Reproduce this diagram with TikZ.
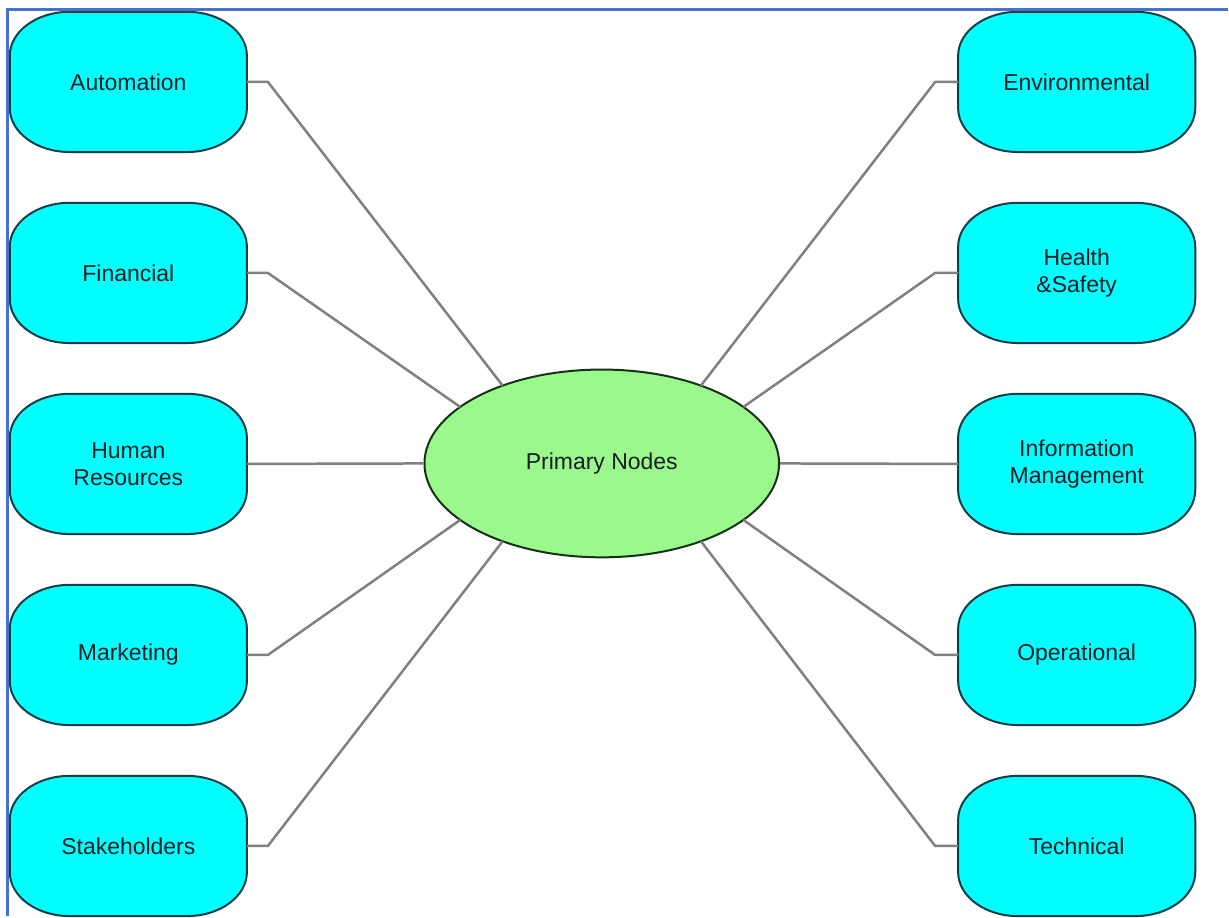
\documentclass[tikz,border=0pt]{standalone}
\usepackage{fontspec}
\setmainfont{Liberation Sans}
\usetikzlibrary{calc,backgrounds,shapes.geometric}

\definecolor{boxfill}{RGB}{0,255,255}
\definecolor{boxedge}{RGB}{22,62,72}
\definecolor{hubfill}{RGB}{155,248,140}
\definecolor{hubedge}{RGB}{20,50,20}
\definecolor{wire}{RGB}{128,128,128}
\definecolor{framecol}{RGB}{70,115,205}
\definecolor{ink}{RGB}{20,30,35}

\tikzset{
  topic/.style={rectangle, minimum width=237pt, minimum height=140pt,
    inner sep=0pt, align=center, text=ink,
    font=\fontsize{23}{27}\selectfont},
  topicshape/.style={fill=boxfill, draw=boxedge, line width=2pt},
  hub/.style={ellipse, minimum width=355pt, minimum height=188pt,
    inner sep=0pt, fill=hubfill, draw=hubedge, line width=2pt,
    text=ink, font=\fontsize{23}{27}\selectfont},
  link/.style={draw=wire, line width=2.5pt, line join=miter},
  borderline/.style={color=framecol, line width=3pt}
}

% a topic box whose corners are quarter ellipses
\newcommand\topicbox[3]{%
  \node[topic] (#1) at (#2) {#3};
  \begin{pgfonlayer}{background}
    \path[topicshape]
      ($(#1.north west)+(60pt,0)$) -- ($(#1.north east)+(-60pt,0)$)
      arc[start angle=90, end angle=0, x radius=60pt, y radius=44pt]
      -- ($(#1.south east)+(0,44pt)$)
      arc[start angle=0, end angle=-90, x radius=60pt, y radius=44pt]
      -- ($(#1.south west)+(60pt,0)$)
      arc[start angle=270, end angle=180, x radius=60pt, y radius=44pt]
      -- ($(#1.north west)+(0,-44pt)$)
      arc[start angle=180, end angle=90, x radius=60pt, y radius=44pt]
      -- cycle;
  \end{pgfonlayer}}

\begin{document}
\begin{tikzpicture}[x=1pt, y=-1pt]
  \begin{pgfonlayer}{background}
    \fill[white] (0,0) rectangle (1229,916);
  \end{pgfonlayer}

  % left column
  \topicbox{auto}{128.5,82}{Automation}
  \topicbox{fin}{128.5,273.25}{Financial}
  \topicbox{hr}{128.5,464.5}{Human\\Resources}
  \topicbox{mkt}{128.5,655.75}{Marketing}
  \topicbox{stake}{128.5,847}{Stakeholders}

  % right column
  \topicbox{env}{1078,82}{Environmental}
  \topicbox{hs}{1078,273.25}{Health\\\&Safety}
  \topicbox{info}{1078,464.5}{Information\\Management}
  \topicbox{ops}{1078,655.75}{Operational}
  \topicbox{tech}{1078,847}{Technical}

  % central hub
  \node[hub] (hub) at (602.5,464) {Primary Nodes};

  % connectors, left side
  \draw[link] (auto.east) -- ++(21,0) -- ([shift={(hub.center)}]124:177.5pt and 94pt);
  \draw[link] (fin.east) -- ++(21,0) -- ([shift={(hub.center)}]143:177.5pt and 94pt);
  \draw[link] (hr.east) -- (hub.west);
  \draw[link] (mkt.east) -- ++(21,0) -- ([shift={(hub.center)}]217:177.5pt and 94pt);
  \draw[link] (stake.east) -- ++(21,0) -- ([shift={(hub.center)}]236:177.5pt and 94pt);

  % connectors, right side
  \draw[link] (env.west) -- ++(-23,0) -- ([shift={(hub.center)}]56:177.5pt and 94pt);
  \draw[link] (hs.west) -- ++(-23,0) -- ([shift={(hub.center)}]37:177.5pt and 94pt);
  \draw[link] (info.west) -- (hub.east);
  \draw[link] (ops.west) -- ++(-23,0) -- ([shift={(hub.center)}]-37:177.5pt and 94pt);
  \draw[link] (tech.west) -- ++(-23,0) -- ([shift={(hub.center)}]-56:177.5pt and 94pt);

  % outer frame (top and left edges)
  \draw[borderline] (1229,10) -- (8,10) -- (8,917);

  \useasboundingbox (0,0) rectangle (1229,916);
\end{tikzpicture}
\end{document}
